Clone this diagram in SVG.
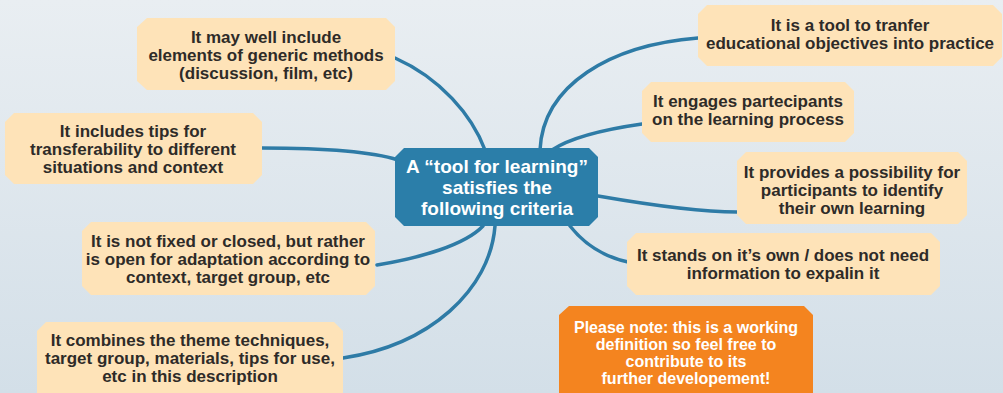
<svg xmlns="http://www.w3.org/2000/svg" width="1003" height="393" viewBox="0 0 1003 393">
<defs>
<linearGradient id="bg" x1="0" y1="0" x2="0" y2="1">
<stop offset="0" stop-color="#e9eef2"/>
<stop offset="1" stop-color="#d3dfe8"/>
</linearGradient>
<style>
.box{fill:#fee3b8}
.center{fill:#2b7ea9}
.note{fill:#f4841f}
.t{font-family:"Liberation Sans",Arial,sans-serif;font-weight:bold;font-size:17px;fill:#2e2b28;text-anchor:middle}
.ct{font-family:"Liberation Sans",Arial,sans-serif;font-weight:bold;font-size:19px;fill:#ffffff;text-anchor:middle}
.nt{font-family:"Liberation Sans",Arial,sans-serif;font-weight:bold;font-size:16px;fill:#ffffff;text-anchor:middle}
.c{fill:none;stroke:#2e7ba6;stroke-width:3.5;stroke-linecap:round}
</style>
</defs>
<rect width="1003" height="393" fill="url(#bg)"/>
<g id="connectors">
<path class="c" d="M395,58 C440,78 472,115 485,150"/>
<path class="c" d="M698,38 C610,45 543,85 540,150"/>
<path class="c" d="M642,124 C600,130 570,138 552,150"/>
<path class="c" d="M262,148 C320,148 370,151 398,160"/>
<path class="c" d="M598,196 C650,205 700,212 737,212"/>
<path class="c" d="M570,226 C585,245 605,257 628,262"/>
<path class="c" d="M377,265 C420,258 465,245 483,226"/>
<path class="c" d="M343,358 C430,345 490,290 495,226"/>
</g>
<g id="center">
<polygon class="center" points="404,148 589,148 598,157 598,217 589,226 404,226 395,217 395,157"/>
<text class="ct" x="497" y="173">A “tool for learning”</text>
<text class="ct" x="497" y="194">satisfies the</text>
<text class="ct" x="497" y="215">following criteria</text>
</g>
<g id="n1">
<polygon class="box" points="147,18 386,18 395,27 395,81 386,90 147,90 137,81 137,27"/>
<text class="t" x="266" y="43">It may well include</text>
<text class="t" x="266" y="61">elements of generic methods</text>
<text class="t" x="266" y="79">(discussion, film, etc)</text>
</g>
<g id="n2">
<polygon class="box" points="14,113 253,113 262,122 262,175 253,184 14,184 5,175 5,122"/>
<text class="t" x="133" y="137">It includes tips for</text>
<text class="t" x="133" y="155">transferability to different</text>
<text class="t" x="133" y="173">situations and context</text>
</g>
<g id="n3">
<polygon class="box" points="91,222 366,222 375,231 375,286 366,295 91,295 82,286 82,231"/>
<text class="t" x="228" y="247">It is not fixed or closed, but rather</text>
<text class="t" x="228" y="265">is open for adaptation according to</text>
<text class="t" x="228" y="283">context, target group, etc</text>
</g>
<g id="n4">
<polygon class="box" points="46,322 334,322 343,331 343,393 37,393 37,331"/>
<text class="t" x="190" y="346">It combines the theme techniques,</text>
<text class="t" x="190" y="364">target group, materials, tips for use,</text>
<text class="t" x="190" y="382">etc in this description</text>
</g>
<g id="n5">
<polygon class="box" points="707,5 993,5 1002,14 1002,57 993,66 707,66 698,57 698,14"/>
<text class="t" x="850" y="31">It is a tool to tranfer</text>
<text class="t" x="850" y="49">educational objectives into practice</text>
</g>
<g id="n6">
<polygon class="box" points="651,82 845,82 854,91 854,133 845,142 651,142 642,133 642,91"/>
<text class="t" x="748" y="107">It engages partecipants</text>
<text class="t" x="748" y="125">on the learning process</text>
</g>
<g id="n7">
<polygon class="box" points="746,152 958,152 967,161 967,215 958,224 746,224 737,215 737,161"/>
<text class="t" x="852" y="178">It provides a possibility for</text>
<text class="t" x="852" y="196">participants to identify</text>
<text class="t" x="852" y="214">their own learning</text>
</g>
<g id="n8">
<polygon class="box" points="636,233 931,233 940,242 940,286 931,295 636,295 627,286 627,242"/>
<text class="t" x="783" y="261">It stands on it’s own / does not need</text>
<text class="t" x="783" y="279">information to expalin it</text>
</g>
<g id="note">
<polygon class="note" points="569,306 804,306 813,315 813,393 559,393 559,315"/>
<text class="nt" x="686" y="333">Please note: this is a working</text>
<text class="nt" x="686" y="350">definition so feel free to</text>
<text class="nt" x="686" y="367">contribute to its</text>
<text class="nt" x="686" y="384">further developement!</text>
</g>
</svg>
